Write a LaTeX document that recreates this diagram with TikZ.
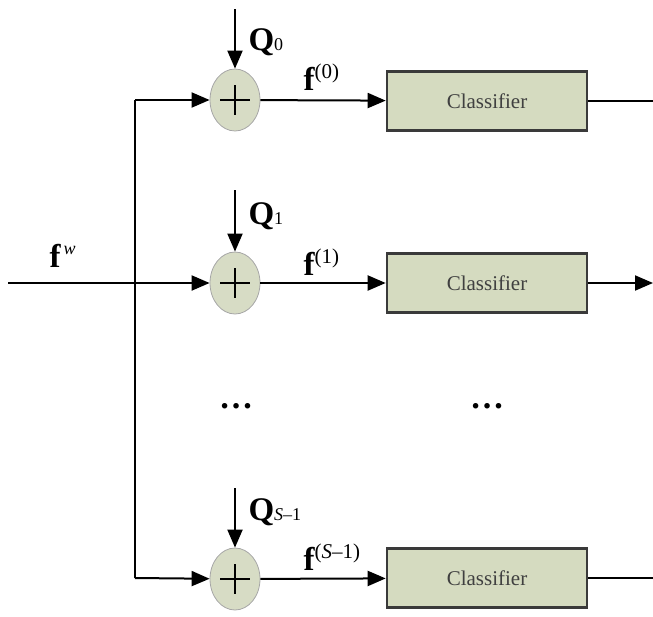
\documentclass[tikz,border=0pt]{standalone}
\usepackage{fontspec}
\setmainfont{Liberation Serif}
\usepackage{xcolor}
\usetikzlibrary{calc}
\usetikzlibrary{arrows.meta}
\usetikzlibrary{shapes.geometric,positioning}
\definecolor{sumfill}{HTML}{D7DCC5}
\definecolor{boxfill}{HTML}{D5DBC0}
\definecolor{boxline}{HTML}{3A3A3A}
\newcommand{\lbl}[1]{\fontsize{33}{36}\selectfont\bfseries #1}
\newcommand{\sscript}[1]{{\fontsize{18}{20}\selectfont\mdseries #1}}
\newcommand{\supscript}[1]{{\fontsize{21}{23}\selectfont\mdseries #1}}

\begin{document}
\begin{tikzpicture}[x=1pt,y=-1pt,
  arr/.style={line width=2pt,-{Triangle[length=18pt,width=15pt]}},
  wire/.style={line width=2pt},
  adder/.style={ellipse,draw=gray!70,fill=sumfill,line width=0.8pt,
    minimum width=50pt,minimum height=62pt,inner sep=0pt,
    path picture={\draw[black,line width=1.8pt]
      ($(path picture bounding box.center)+(-15,0)$) -- ++(30,0)
      ($(path picture bounding box.center)+(0,-15)$) -- ++(0,30);}},
  clsbox/.style={draw=boxline,fill=boxfill,line width=2.6pt,
    minimum width=200pt,minimum height=59pt,inner sep=0pt,
    font=\fontsize{21}{24}\selectfont,text=black!75}]
\useasboundingbox (0,0) rectangle (653,616);
%
\coordinate (in) at (8,283);
\coordinate (b0) at (135,100);
\coordinate (b1) at (135,283);
\coordinate (b2) at (135,578);
\coordinate (q0) at (235,9);
\coordinate (q1) at (235,190);
\coordinate (q2) at (235,488);
\coordinate (o0) at (653,101);
\coordinate (o1) at (653,283);
\coordinate (o2) at (653,578);
%
\node[adder] (s0) at (235,100) {};
\node[adder] (s1) at (235,283) {};
\node[adder] (s2) at (235,579) {};
\node[clsbox] (c0) at (487,101) {Classifier};
\node[clsbox] (c1) at (487,283) {Classifier};
\node[clsbox] (c2) at (487,578) {Classifier};
%
\draw[wire] (b0) -- (b2);
\draw[wire] (in) -- (b1);
\draw[arr] (b0) -- (s0);
\draw[arr] (b1) -- (s1);
\draw[arr] (b2) -- (s2);
\draw[arr] (q0) -- (s0.north);
\draw[arr] (q1) -- (s1.north);
\draw[arr] (q2) -- (s2.north);
\draw[arr] (s0) -- (c0);
\draw[arr] (s1) -- (c1);
\draw[arr] (s2) -- (c2);
\draw[wire] (c0) -- (o0);
\draw[arr] (c1) -- (o1);
\draw[wire] (c2) -- (o2);
%
\node[anchor=west] (lq0) at (245,42) {\lbl{Q}\sscript{0}};
\node[anchor=west] (lq1) at (245,216) {\lbl{Q}\sscript{1}};
\node[anchor=west] (lq2) at (245,512) {\lbl{Q}\sscript{\textit{S}–1}};
\node[anchor=west] (lf0) at (300,77) {\lbl{f}\raisebox{12pt}{\supscript{(0)}}};
\node[anchor=west] (lf1) at (300,262) {\lbl{f}\raisebox{12pt}{\supscript{(1)}}};
\node[anchor=west] (lf2) at (300,557) {\lbl{f}\raisebox{12pt}{\supscript{(\textit{S}–1)}}};
\node[anchor=west] (lfw) at (46,256) {\lbl{f}\raisebox{13pt}{\sscript{\,\textit{w}}}};
%
\node[font=\fontsize{34}{36}\selectfont\bfseries] (d0) at (236,406) {…};
\node[font=\fontsize{34}{36}\selectfont\bfseries] (d1) at (487,406) {…};
\end{tikzpicture}
\end{document}
